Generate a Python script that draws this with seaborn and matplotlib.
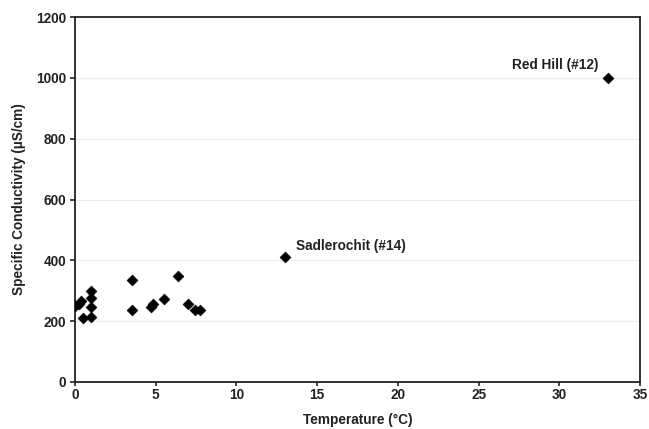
import matplotlib
matplotlib.use("Agg")
import matplotlib.pyplot as plt
import seaborn as sns
import pandas as pd

# Spring water measurements
temperature = [0.0, 0.25, 0.4, 0.5, 1.0, 1.0, 1.0, 1.0, 3.5, 3.5, 4.7, 4.85,
               5.5, 6.4, 7.0, 7.45, 7.75, 13.0, 33.0]
conductivity = [250, 258, 265, 210, 300, 277, 245, 215, 337, 237, 248, 258,
                273, 350, 255, 237, 237, 410, 1000]
labels = {17: "Sadlerochit (#14)", 18: "Red Hill (#12)"}

x_ticks = [0, 5, 10, 15, 20, 25, 30, 35]
y_ticks = [0, 200, 400, 600, 800, 1000, 1200]

df = pd.DataFrame({"Temperature": temperature, "Conductivity": conductivity})

sns.set_theme(style="white")
plt.rcParams["font.family"] = ["Liberation Sans", "DejaVu Sans"]
plt.rcParams["font.weight"] = "bold"

FS = 9.8
fig = plt.figure(figsize=(6.49, 4.29), dpi=100)
ax = fig.add_axes([0.1156, 0.1096, 0.8705, 0.8504])

sns.scatterplot(data=df, x="Temperature", y="Conductivity", marker="D",
                color="black", s=30, edgecolor="black", linewidth=0.5,
                ax=ax, zorder=3)

ax.set_xlim(0, 35)
ax.set_ylim(0, 1200)
ax.set_xticks(x_ticks)
ax.set_yticks(y_ticks)
ax.yaxis.grid(True, color="#ebebeb", linewidth=0.8)
ax.set_axisbelow(True)

for side in ["left", "right", "top", "bottom"]:
    ax.spines[side].set_visible(True)
    ax.spines[side].set_color("#222222")
    ax.spines[side].set_linewidth(1.3)

ax.tick_params(axis="both", which="major", direction="out", length=3.5,
               width=1.2, color="#222222", labelsize=FS,
               bottom=True, left=True)
ax.tick_params(axis="x", length=3, pad=1.5)
ax.tick_params(axis="y", pad=3)
for lbl in ax.get_xticklabels() + ax.get_yticklabels():
    lbl.set_fontweight("bold")
    lbl.set_color("#222222")

ax.set_xlabel("Temperature (°C)", fontsize=FS, fontweight="bold",
              color="#222222", labelpad=8)
ax.set_ylabel("Specific Conductivity (µS/cm)", fontsize=FS, fontweight="bold",
              color="#222222", labelpad=7)

ax.annotate(labels[17], (temperature[17], conductivity[17]),
            xytext=(8, 3), textcoords="offset points", ha="left", va="bottom",
            fontsize=FS, fontweight="bold", color="#222222")
ax.annotate(labels[18], (temperature[18], conductivity[18]),
            xytext=(-7, 4), textcoords="offset points", ha="right", va="bottom",
            fontsize=FS, fontweight="bold", color="#222222")

fig.savefig("out.png", dpi=100)
